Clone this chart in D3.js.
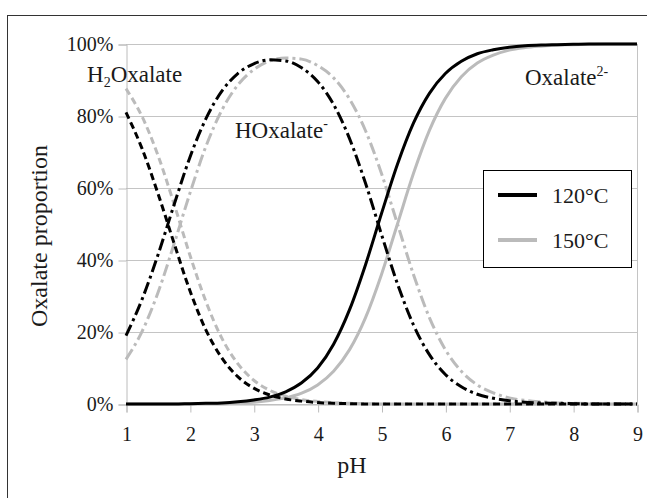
<!DOCTYPE html>
<html>
<head>
<meta charset="utf-8">
<script src="https://cdn.jsdelivr.net/npm/d3@7"></script>
<style>
  body { margin: 0; background: #fff; }
  svg text { font-family: 'Liberation Serif', 'DejaVu Serif', serif; fill: #1a1a1a; }
</style>
</head>
<body>
<script>
// pH values (x)
var pH = [1, 1.25, 1.5, 1.75, 2, 2.25, 2.5, 2.75, 3, 3.25, 3.5, 3.75, 4, 4.25, 4.5, 4.75,
  5, 5.25, 5.5, 5.75, 6, 6.25, 6.5, 6.75, 7, 7.25, 7.5, 7.75, 8, 8.25, 8.5, 8.75, 9];

// 120°C, proportions in %
var h2ox120 = [81.0, 71.0, 58.5, 44.8, 31.5, 20.6, 12.8, 7.6, 4.4, 2.5, 1.4, 0.8, 0.4, 0.2, 0.1, 0,
  0, 0, 0, 0, 0, 0, 0, 0, 0, 0, 0, 0, 0, 0, 0, 0, 0];
var hox120 = [19.0, 29.0, 41.4, 55.2, 68.5, 79.2, 86.9, 91.8, 94.5, 95.6, 95.3, 93.4, 89.6, 83.2, 73.7, 61.3,
  47.1, 33.4, 22.0, 13.7, 8.2, 4.8, 2.7, 1.6, 0.9, 0.5, 0.3, 0.2, 0.1, 0, 0, 0, 0];
var ox120 = [0, 0, 0, 0, 0.1, 0.2, 0.3, 0.6, 1.1, 1.9, 3.4, 5.9, 10.0, 16.6, 26.2, 38.7,
  52.9, 66.6, 78.0, 86.3, 91.8, 95.2, 97.3, 98.4, 99.1, 99.5, 99.7, 99.8, 99.9, 100, 100, 100, 100];

// 150°C, proportions in %
var h2ox150 = [87.6, 79.9, 69.1, 55.7, 41.4, 28.5, 18.3, 11.2, 6.6, 3.8, 2.2, 1.2, 0.7, 0.4, 0.2, 0.1,
  0, 0, 0, 0, 0, 0, 0, 0, 0, 0, 0, 0, 0, 0, 0, 0, 0];
var hox150 = [12.4, 20.1, 30.9, 44.3, 58.5, 71.5, 81.6, 88.6, 92.9, 95.3, 96.1, 95.8, 94.0, 90.6, 84.7, 75.9,
  64.0, 50.0, 36.0, 24.0, 15.1, 9.1, 5.3, 3.1, 1.7, 1.0, 0.6, 0.3, 0.2, 0.1, 0, 0, 0];
var ox150 = [0, 0, 0, 0, 0, 0.1, 0.1, 0.3, 0.5, 1.0, 1.7, 3.0, 5.3, 9.1, 15.1, 24.0,
  36.0, 50.0, 64.0, 76.0, 84.9, 90.9, 94.7, 96.9, 98.3, 99.0, 99.4, 99.7, 99.8, 99.9, 100, 100, 100];

var xTicks = [1, 2, 3, 4, 5, 6, 7, 8, 9];
var yTicks = [0, 20, 40, 60, 80, 100];
var legendLabels = ["120°C", "150°C"];

var width = 647, height = 498;
var black = "#000", grey = "#bbbbbb";
var dashStyle = "7,4", dashDotStyle = "12,4,3,4";
var serif = "'Liberation Serif', 'DejaVu Serif', serif";

var svg = d3.select("body").append("svg")
  .attr("width", width)
  .attr("height", height);

// outer frame (cut off at right / bottom)
svg.append("rect")
  .attr("x", 7.5).attr("y", 15.5)
  .attr("width", 700).attr("height", 600)
  .attr("fill", "none")
  .attr("stroke", "#333")
  .attr("stroke-width", 1);

var x = d3.scaleLinear().domain([1, 9]).range([126, 637]);
var y = d3.scaleLinear().domain([0, 100]).range([404, 44]);

// gridlines
svg.append("g").selectAll("line")
  .data(yTicks)
  .enter().append("line")
  .attr("x1", x(1)).attr("x2", x(9))
  .attr("y1", function (d) { return Math.round(y(d)) + 0.5; })
  .attr("y2", function (d) { return Math.round(y(d)) + 0.5; })
  .attr("stroke", "#c4c4c4");

// right edge of plot
svg.append("line")
  .attr("x1", x(9) + 0.5).attr("x2", x(9) + 0.5)
  .attr("y1", y(100)).attr("y2", y(0))
  .attr("stroke", "#c4c4c4");

// axes
var yAxis = svg.append("g")
  .attr("transform", "translate(" + (x(1) + 0.5) + ",0.5)")
  .call(d3.axisLeft(y).tickValues(yTicks).tickSize(8).tickPadding(6)
    .tickFormat(function (d) { return d + "%"; }));

var xAxis = svg.append("g")
  .attr("transform", "translate(0.5," + (Math.round(y(0)) + 0.5) + ")")
  .call(d3.axisBottom(x).tickValues(xTicks).tickSize(8).tickPadding(10)
    .tickFormat(d3.format("d")));

[yAxis, xAxis].forEach(function (ax) {
  ax.attr("font-family", serif).attr("font-size", 20);
  ax.selectAll("path, line").attr("stroke", "#bcbcbc");
  ax.selectAll("text").attr("fill", "#1a1a1a");
});
yAxis.selectAll("text").attr("dy", "0.28em").attr("x", -13);
xAxis.selectAll("text").attr("dy", "0.9em");

// curves
var line = d3.line()
  .x(function (d) { return x(d[0]); })
  .y(function (d) { return y(d[1]); })
  .curve(d3.curveMonotoneX);

var series = [
  { values: ox150, color: grey, dash: null },
  { values: hox150, color: grey, dash: dashDotStyle },
  { values: h2ox150, color: grey, dash: dashStyle },
  { values: ox120, color: black, dash: null },
  { values: hox120, color: black, dash: dashDotStyle },
  { values: h2ox120, color: black, dash: dashStyle }
];

svg.append("g").selectAll("path")
  .data(series)
  .enter().append("path")
  .attr("d", function (s) {
    return line(pH.map(function (p, i) { return [p, s.values[i]]; }));
  })
  .attr("fill", "none")
  .attr("stroke", function (s) { return s.color; })
  .attr("stroke-width", 3)
  .attr("stroke-dasharray", function (s) { return s.dash; });

// species labels
var h2 = svg.append("text").attr("x", 87).attr("y", 82).style("font-size", "23px");
h2.append("tspan").text("H");
h2.append("tspan").text("2").style("font-size", "14px").attr("dy", 5);
h2.append("tspan").text("Oxalate").attr("dy", -5);

var h1 = svg.append("text").attr("x", 235).attr("y", 138).style("font-size", "23px");
h1.append("tspan").text("HOxalate");
h1.append("tspan").text("-").style("font-size", "14px").attr("dy", -10);

var ox = svg.append("text").attr("x", 525).attr("y", 85).style("font-size", "23px");
ox.append("tspan").text("Oxalate");
ox.append("tspan").text("2-").style("font-size", "14px").attr("dy", -9);

// axis titles
svg.append("text")
  .attr("transform", "translate(47,236) rotate(-90)")
  .attr("text-anchor", "middle")
  .style("font-size", "24px")
  .text("Oxalate proportion");

svg.append("text")
  .attr("x", 352).attr("y", 473)
  .attr("text-anchor", "middle")
  .style("font-size", "24px")
  .text("pH");

// legend
var legend = svg.append("g");
legend.append("rect")
  .attr("x", 483.5).attr("y", 170.5)
  .attr("width", 148).attr("height", 97)
  .attr("fill", "#fff")
  .attr("stroke", "#000");

var items = legend.selectAll("g.item")
  .data(legendLabels)
  .enter().append("g")
  .attr("class", "item")
  .attr("transform", function (d, i) { return "translate(0," + (195 + i * 45) + ")"; });

items.append("line")
  .attr("x1", 498).attr("x2", 537)
  .attr("stroke", function (d, i) { return i === 0 ? black : grey; })
  .attr("stroke-width", 4);

items.append("text")
  .attr("x", 552).attr("y", 8)
  .style("font-size", "22px")
  .text(function (d) { return d; });
</script>
</body>
</html>
